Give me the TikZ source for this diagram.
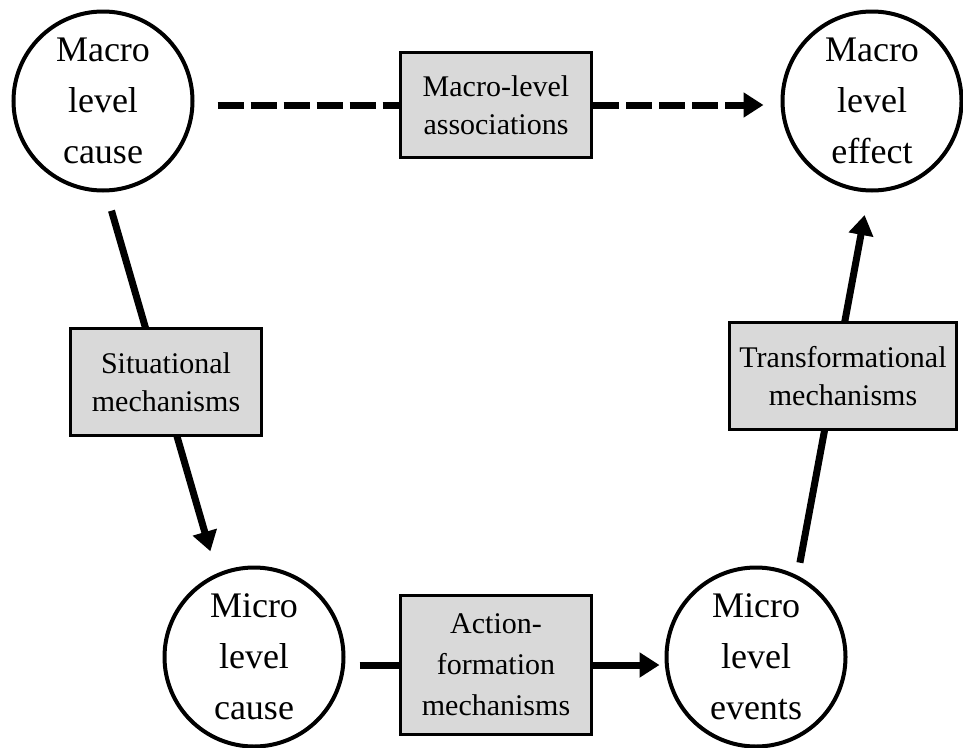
\documentclass[tikz,border=0pt]{standalone}
\usepackage{fontspec}
\setmainfont{Liberation Serif}
\usetikzlibrary{arrows.meta,backgrounds}
\definecolor{boxgray}{RGB}{217,217,217}
\begin{document}
\begin{tikzpicture}[x=1pt,y=-1pt,
  circ/.style={circle,draw,line width=4pt,minimum size=179pt,inner sep=0pt,align=center,font=\fontsize{36}{51}\selectfont},
  mech/.style={rectangle,draw,line width=3.3pt,fill=boxgray,align=center,inner sep=0pt,font=\fontsize{30}{38}\selectfont},
  conn/.style={line width=7pt},
  arrowhd/.style={-{Triangle[length=20pt,width=24pt]}},
  dashln/.style={dash pattern=on 26pt off 7pt}
]
\useasboundingbox (0,0) rectangle (963,747);
\node[circ] (mc) at (103,101) {Macro\\level\\cause};
\node[circ] (me) at (872,101) {Macro\\level\\effect};
\node[circ] (mic) at (254,657) {Micro\\level\\cause};
\node[circ] (mev) at (756,657) {Micro\\level\\events};
\node[mech,minimum width=191pt,minimum height=105pt] (assoc) at (496,105) {Macro-level\\associations};
\node[mech,minimum width=191pt,minimum height=107pt] (sit) at (166,382) {Situational\\mechanisms};
\node[mech,minimum width=227pt,minimum height=107pt] (trans) at (843,376) {Transformational\\mechanisms};
\node[mech,minimum width=191pt,minimum height=139pt,font=\fontsize{30}{41}\selectfont] (act) at (496,665) {Action-\\formation\\mechanisms};
\begin{scope}[on background layer]
\fill[white] (0,0) rectangle (963,747);
\draw[conn,arrowhd,shorten <=19pt,shorten >=23pt] (mc.-88) -- (mic.114);
\draw[conn,arrowhd,shorten <=13pt,shorten >=23pt] (mev.63) -- (me.-92);
\end{scope}
\draw[conn,dashln,shorten <=23pt] (mc.east |- assoc.west) -- (assoc.west);
\draw[conn,dashln,arrowhd,shorten >=17pt] (assoc.east) -- (me.west |- assoc.east);
\draw[conn,shorten <=14pt] (mic.east |- act.west) -- (act.west);
\draw[conn,arrowhd,shorten >=5pt] (act.east) -- (mev.west |- act.east);
\end{tikzpicture}
\end{document}
